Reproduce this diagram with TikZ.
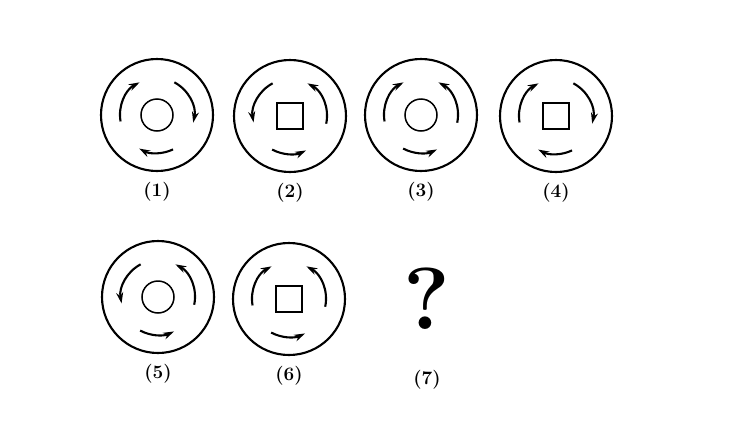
\documentclass[tikz,border=0pt]{standalone}
\usepackage{tikz}
\usetikzlibrary{arrows.meta}
\tikzset{
  dialrim/.style={draw, circle, line width=2.1pt, minimum size=112pt, inner sep=0pt},
  dialhub/.style={draw, line width=1.5pt, inner sep=0pt},
  dialarrow/.style={line width=2.1pt, -{Stealth[length=11pt,width=7pt]}},
  dialtag/.style={font=\fontsize{19}{21}\selectfont\bfseries}
}

\begin{document}
\begin{tikzpicture}[x=1pt, y=-1pt]
  \useasboundingbox (0,0) rectangle (732,421);
  % six dials: number / x / y / hub shape / hub size / turn of left, right, bottom arc
  \foreach \n/\cx/\cy/\sh/\sz/\dl/\dr/\db in {
      1/157/115/circle/32/1/1/1,
      2/290/116/rectangle/26/-1/-1/-1,
      3/421/115/circle/32/1/-1/-1,
      4/556/116/rectangle/26/1/1/1,
      5/158/297/circle/32/-1/-1/-1,
      6/289/299/rectangle/26/1/-1/-1} {
    \node[dialrim] (dial\n) at (\cx,\cy) {};
    \node[dialhub, shape=\sh, minimum size=\sz pt] (hub\n) at (\cx,\cy) {};
    \draw[dialarrow] ([shift={(154+\dl*36:37pt)}]hub\n.center) arc[start angle=154+\dl*36, end angle=154-\dl*36, radius=37pt];
    \draw[dialarrow] ([shift={(25+\dr*37:37pt)}]hub\n.center) arc[start angle=25+\dr*37, end angle=25-\dr*37, radius=37pt];
    \draw[dialarrow] ([shift={(-91.5+\db*26.5:38pt)}]hub\n.center) arc[start angle=-91.5+\db*26.5, end angle=-91.5-\db*26.5, radius=38pt];
    \node[dialtag] (tag\n) at (\cx,\cy+77) {(\n)};
  }
  \node[font=\fontsize{88}{88}\selectfont\bfseries] (ask) at (427,299) {?};
  \node[dialtag] (tag7) at (427,380) {(7)};
\end{tikzpicture}
\end{document}
